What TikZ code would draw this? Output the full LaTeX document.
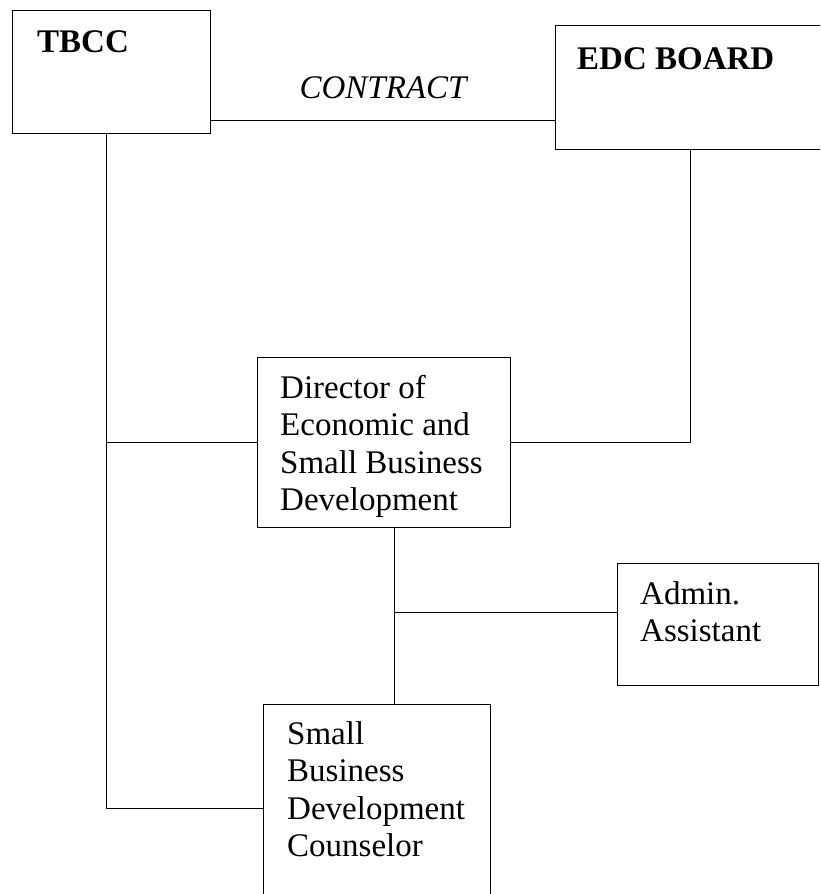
\documentclass[tikz,border=0pt]{standalone}
\usepackage{fontspec}
\setmainfont{Liberation Serif}
\usetikzlibrary{positioning,calc}
\tikzset{%
	unit/.style    = {draw, rectangle, line width=1.1pt, inner sep=0pt, anchor=north west},
	title/.style   = {anchor=north west, inner sep=0pt, align=left, font=\fontsize{33}{37.5}\selectfont},
	heading/.style = {title, font=\fontsize{33}{37.5}\selectfont\bfseries},
	link/.style    = {line width=1.1pt},
}

\begin{document}
\begin{tikzpicture}[x=1pt,y=-1pt]
		\useasboundingbox (0,0) rectangle (820,894);
		\clip (0,0) rectangle (820,894);
		
		% boxes
		\node[unit, minimum width=198, minimum height=123, label={[heading, xshift=25pt, yshift=-20pt]north west:TBCC}] (tbcc) at (12,10) {};
		\node[unit, minimum width=270, minimum height=124, label={[heading, xshift=22pt, yshift=-22pt]north west:EDC BOARD}] (edc) at (555,25) {};
		\node[unit, minimum width=253, minimum height=170, label={[title, xshift=23pt, yshift=-18pt]north west:{Director of\\Economic and\\Small Business\\Development}}] (director) at (257,357) {};
		\node[unit, minimum width=201, minimum height=122, label={[title, xshift=23pt, yshift=-18pt]north west:{Admin.\\Assistant}}] (admin) at (617,563) {};
		\node[unit, minimum width=227, minimum height=208, label={[title, xshift=24pt, yshift=-17pt]north west:{Small\\Business\\Development\\Counselor}}] (counselor) at (263,704) {};
		
		% contract between TBCC and the board
		\coordinate (ct) at ([yshift=14pt]tbcc.south east);
		\draw[link] (ct) -- (ct -| edc.west) node[midway, anchor=base, inner sep=0pt, yshift=22pt, font=\fontsize{33}{37.5}\selectfont\itshape] (contract) {CONTRACT};
		
		% TBCC line on the left
		\coordinate (trunk) at ([xshift=-5pt]tbcc.south);
		\draw[link] (trunk) |- (counselor.west);
		\draw[link] (director.west) -- (director.west -| trunk);
		
		% board to director
		\draw[link] (edc.south) |- (director.east);
		
		% director down to counselor, admin on the side
		\coordinate (stem) at ([xshift=10pt]director.south);
		\draw[link] (stem) -- (stem |- counselor.north);
		\draw[link] ([yshift=12pt]admin.west) -- ([yshift=12pt]admin.west -| stem);
\end{tikzpicture}
\end{document}
